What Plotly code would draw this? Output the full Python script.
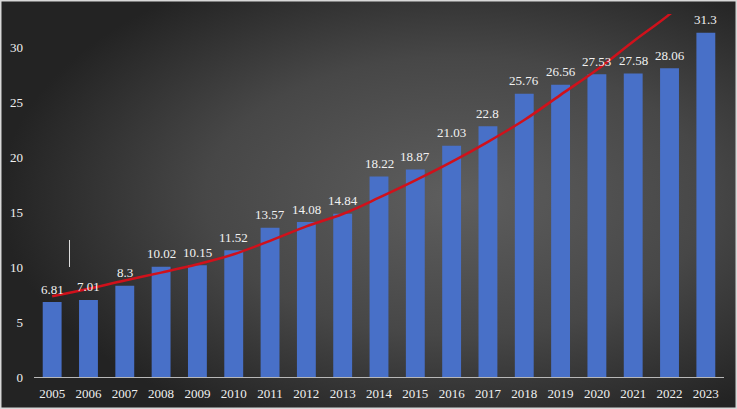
import base64
import plotly.graph_objects as go

years = [str(y) for y in range(2005, 2024)]
values = [6.81, 7.01, 8.3, 10.02, 10.15, 11.52, 13.57, 14.08, 14.84, 18.22,
          18.87, 21.03, 22.8, 25.76, 26.56, 27.53, 27.58, 28.06, 31.3]
value_labels = ["6.81", "7.01", "8.3", "10.02", "10.15", "11.52", "13.57", "14.08", "14.84", "18.22",
                "18.87", "21.03", "22.8", "25.76", "26.56", "27.53", "27.58", "28.06", "31.3"]
trend = [7.35, 8.02, 8.78, 9.49, 10.25, 11.16, 12.38, 13.7, 14.82, 16.3,
         17.87, 19.55, 21.38, 23.36, 25.65, 27.93, 30.5, 32.97, 35.9]
y_ticks = [0, 5, 10, 15, 20, 25, 30]

W, H = 737, 409
ML, MR, MT, MB = 34, 13, 14, 32
PW, PH = W - ML - MR, H - MT - MB

svg = (f"<svg xmlns='http://www.w3.org/2000/svg' width='{W}' height='{H}'>"
       "<defs><radialGradient id='g' cx='0.62' cy='0.48' r='0.62'>"
       "<stop offset='0' stop-color='#5e5e5e'/>"
       "<stop offset='0.55' stop-color='#474747'/>"
       "<stop offset='1' stop-color='#232323'/>"
       "</radialGradient></defs>"
       f"<rect width='{W}' height='{H}' fill='url(#g)'/></svg>")
bg_src = "data:image/svg+xml;base64," + base64.b64encode(svg.encode()).decode()

font = "Liberation Serif"

fig = go.Figure()
fig.add_trace(go.Bar(
    x=years, y=values,
    marker=dict(color="#4870c8", line=dict(width=0)),
    hoverinfo="skip",
))
fig.add_trace(go.Scatter(
    x=years, y=trend, mode="lines",
    line=dict(color="#d0111b", width=2.5, shape="spline"),
    hoverinfo="skip",
))

annotations = [
    dict(x=i, y=v, text=lab, xref="x", yref="y", showarrow=False,
         yanchor="middle", yshift=13,
         font=dict(family=font, size=13, color="#f2f2f2"))
    for i, (v, lab) in enumerate(zip(values, value_labels))
]

fig.update_layout(
    width=W, height=H,
    margin=dict(l=ML, r=MR, t=MT, b=MB, autoexpand=False),
    paper_bgcolor="#333333", plot_bgcolor="rgba(0,0,0,0)",
    showlegend=False, bargap=0.48,
    annotations=annotations,
    images=[dict(source=bg_src, xref="paper", yref="paper",
                 x=-ML / PW, y=1 + MT / PH, sizex=W / PW, sizey=H / PH,
                 sizing="stretch", xanchor="left", yanchor="top", layer="below")],
    shapes=[
        dict(type="rect", xref="paper", yref="paper",
             x0=-ML / PW + 0.75 / PW, x1=1 + (MR - 0.75) / PW,
             y0=-(MB - 0.75) / PH, y1=1 + (MT - 0.75) / PH,
             line=dict(color="#d8d8d8", width=1.5), fillcolor="rgba(0,0,0,0)"),
        dict(type="line", xref="paper", yref="paper",
             x0=35.5 / PW, x1=35.5 / PW, y0=110 / PH, y1=137 / PH,
             line=dict(color="#dddddd", width=1)),
    ],
    xaxis=dict(type="category", range=[-0.5, 18.5], showgrid=False, automargin=False,
               showline=True, linecolor="#b8b8b8", linewidth=1,
               ticks="", ticklabelstandoff=4,
               tickfont=dict(family=font, size=13, color="#f0f0f0")),
    yaxis=dict(range=[0, 33], tickvals=y_ticks, showgrid=False, zeroline=False,
               showline=False, ticks="", ticklabelstandoff=10, automargin=False,
               tickfont=dict(family=font, size=13, color="#f0f0f0")),
)

fig.write_html("out.html", config={"displayModeBar": False},
               post_script="document.body.style.margin='0';document.body.style.padding='0';"
                           "document.documentElement.style.overflow='hidden';")
